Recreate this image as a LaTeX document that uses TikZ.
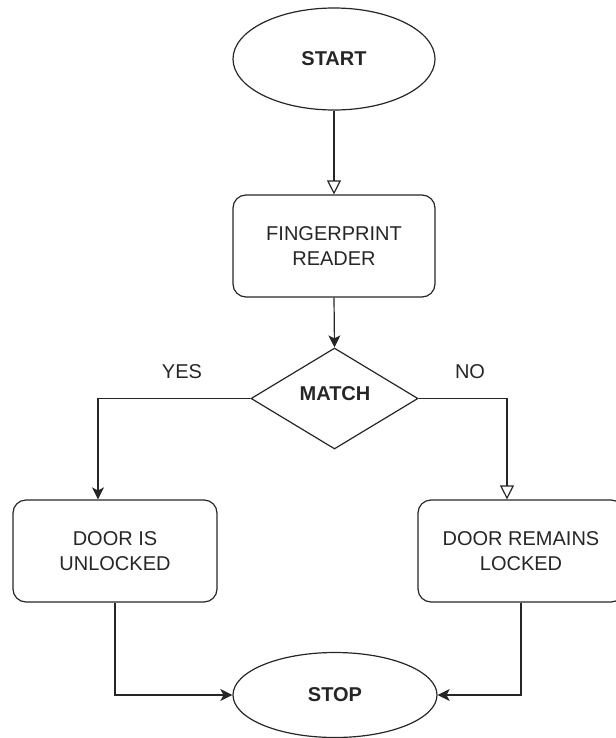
\documentclass[tikz,border=0pt]{standalone}
\usepackage{fontspec}
\setmainfont{Liberation Sans}
\usetikzlibrary{shapes.geometric,arrows.meta}
\tikzset{
  base/.style={draw=black!85, line width=1.2pt, text=black!85, inner sep=0pt,
    font=\fontsize{20}{25}\selectfont, align=center},
  term/.style={base, ellipse, font=\fontsize{20}{25}\selectfont\bfseries},
  proc/.style={base, rectangle, rounded corners=13pt},
  dec/.style={base, diamond, font=\fontsize{20}{25}\selectfont\bfseries},
  lbl/.style={text=black!85, font=\fontsize{20}{25}\selectfont, inner sep=0pt},
  conn/.style={draw=black!85, line width=1.2pt},
  fillarr/.style={conn, -{Stealth[length=12pt,width=12pt,inset=3pt]}},
  openarr/.style={conn, -{Triangle[open,length=14pt,width=14pt]}},
}
\begin{document}
\begin{tikzpicture}[x=1pt,y=-1pt]
\useasboundingbox (0,0) rectangle (615,738);
\node[term, minimum width=202pt, minimum height=102pt] (start) at (334,59) {START};
\node[proc, minimum width=202pt, minimum height=102pt] (fp) at (334,246) {FINGERPRINT\\READER};
\node[dec, minimum width=167pt, minimum height=101pt, aspect=1.65] (match) at (334.5,398.5) {};
\node[lbl, font=\fontsize{20}{25}\selectfont\bfseries] (mtext) at (335,394) {MATCH};
\node[proc, minimum width=204pt, minimum height=102pt] (unl) at (115,551) {DOOR IS\\UNLOCKED};
\node[proc, minimum width=206pt, minimum height=102pt] (lock) at (521,551) {DOOR REMAINS\\LOCKED};
\node[term, minimum width=204pt, minimum height=85pt] (stop) at (335,695) {STOP};
\node[lbl] (yes) at (182,372) {YES};
\node[lbl] (no) at (470,372) {NO};
\coordinate (unlin) at ([xshift=-17pt]unl.north);
\coordinate (lockin) at ([xshift=-14pt]lock.north);
\draw[openarr] (start.south) -- (fp.north);
\draw[fillarr] (fp.south) -- (match.north);
\draw[fillarr] (match.west) -| (unlin);
\draw[openarr] (match.east) -| (lockin);
\draw[fillarr] (unl.south) |- (stop.west);
\draw[fillarr] (lock.south) |- (stop.east);
\end{tikzpicture}
\end{document}
